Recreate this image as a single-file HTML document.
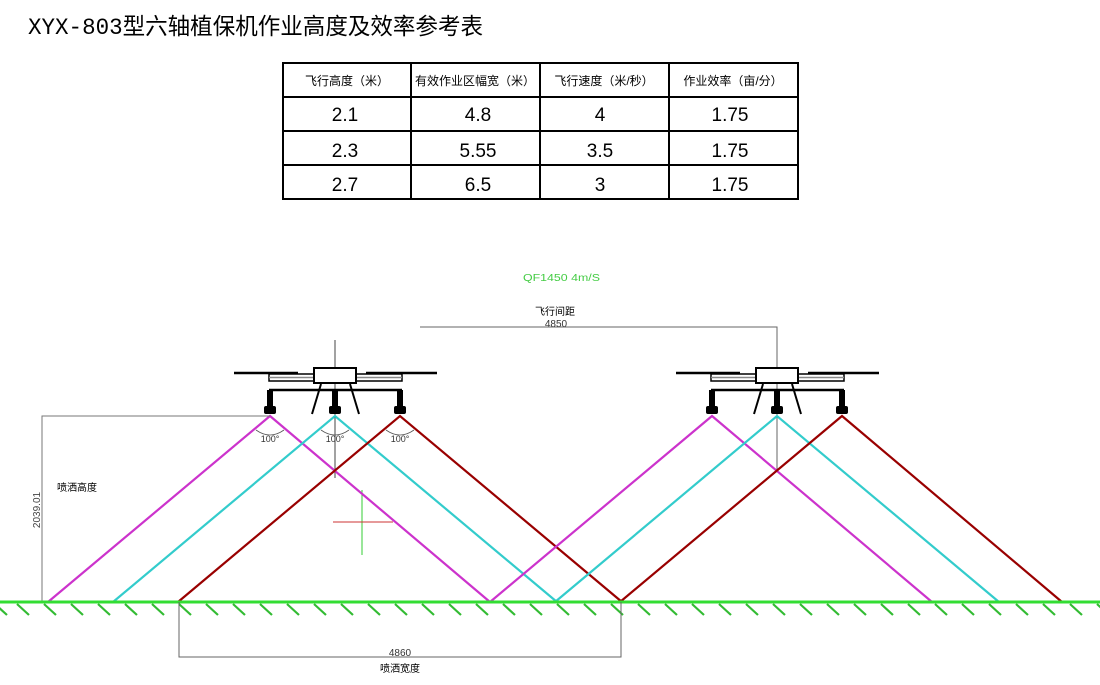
<!DOCTYPE html>
<html><head><meta charset="utf-8"><style>
html,body{margin:0;padding:0;background:#fff;width:1100px;height:685px;overflow:hidden}
svg{display:block}
text{font-family:"Liberation Sans","Noto Sans CJK SC",sans-serif}
</style></head><body>
<svg width="1100" height="685" viewBox="0 0 1100 685" xmlns="http://www.w3.org/2000/svg">
<defs>
<g id="drone">
  <line x1="-101" y1="373" x2="-37" y2="373" stroke="#000" stroke-width="2.5"/>
  <line x1="31" y1="373" x2="102" y2="373" stroke="#000" stroke-width="2.5"/>
  <rect x="-66" y="374" width="133" height="7" fill="#fff" stroke="#000" stroke-width="1.5"/>
  <line x1="-66" y1="377.5" x2="67" y2="377.5" stroke="#888" stroke-width="1.5"/>
  <rect x="-21" y="368" width="42" height="15" fill="#fff" stroke="#000" stroke-width="2"/>
  <line x1="-66" y1="390" x2="67" y2="390" stroke="#000" stroke-width="2.5"/>
  <line x1="-14" y1="384" x2="-23" y2="414" stroke="#000" stroke-width="2"/>
  <line x1="15" y1="384" x2="24" y2="414" stroke="#000" stroke-width="2"/>
  <g id="noz">
    <rect x="-68" y="390" width="6" height="18" fill="#000"/>
    <rect x="-71" y="406" width="12" height="8" rx="2" fill="#000"/>
  </g>
  <use href="#noz" x="65"/>
  <use href="#noz" x="130"/>
</g>
</defs>

<text x="28" y="34" font-size="23" textLength="455" lengthAdjust="spacingAndGlyphs" fill="#000" style="font-family:'Liberation Mono','Noto Sans CJK SC',monospace">XYX-803型六轴植保机作业高度及效率参考表</text>

<g stroke="#000" stroke-width="2" fill="none">
  <rect x="283" y="63" width="515" height="136"/>
  <line x1="283" y1="97" x2="798" y2="97"/>
  <line x1="283" y1="131" x2="798" y2="131"/>
  <line x1="283" y1="165" x2="798" y2="165"/>
  <line x1="411" y1="63" x2="411" y2="199"/>
  <line x1="540" y1="63" x2="540" y2="199"/>
  <line x1="669" y1="63" x2="669" y2="199"/>
</g>
<g font-size="12" text-anchor="middle" fill="#000">
  <text x="347" y="85">飞行高度（米）</text>
  <text x="475" y="85">有效作业区幅宽（米）</text>
  <text x="604" y="85">飞行速度（米/秒）</text>
  <text x="733" y="85">作业效率（亩/分）</text>
</g>
<g font-size="19" text-anchor="middle" fill="#000">
  <text x="345" y="121">2.1</text><text x="478" y="121">4.8</text><text x="600" y="121">4</text><text x="730" y="121">1.75</text>
  <text x="345" y="157">2.3</text><text x="478" y="157">5.55</text><text x="600" y="157">3.5</text><text x="730" y="157">1.75</text>
  <text x="345" y="191">2.7</text><text x="478" y="191">6.5</text><text x="600" y="191">3</text><text x="730" y="191">1.75</text>
</g>

<text x="523" y="281" font-size="10" fill="#4c4" textLength="77" lengthAdjust="spacingAndGlyphs">QF1450 4m/S</text>
<text x="555" y="315" font-size="10" text-anchor="middle" fill="#000">飞行间距</text>
<text x="556" y="327" font-size="10" text-anchor="middle" fill="#333">4850</text>
<polyline points="420,327 777,327 777,470" fill="none" stroke="#666" stroke-width="1"/>

<line x1="335" y1="340" x2="335" y2="478" stroke="#444" stroke-width="1"/>
<line x1="362" y1="490" x2="362" y2="555" stroke="#3c3" stroke-width="1"/>
<line x1="333" y1="522" x2="393" y2="522" stroke="#c33" stroke-width="1"/>

<g stroke-width="2.2" fill="none">
  <polyline points="48,602 270,416 490,602" stroke="#cc33cc"/>
  <polyline points="113,602 335,416 557,602" stroke="#33cccc"/>
  <polyline points="178,602 400,416 622,602" stroke="#990000"/>
  <polyline points="490,602 712,416 932,602" stroke="#cc33cc"/>
  <polyline points="555,602 777,416 999,602" stroke="#33cccc"/>
  <polyline points="620,602 842,416 1062,602" stroke="#990000"/>
</g>
<g font-size="9" fill="#333" text-anchor="middle">
  <text x="270" y="442">100°</text><text x="335" y="442">100°</text><text x="400" y="442">100°</text>
</g>
<g fill="none" stroke="#555" stroke-width="0.8">
  <path d="M256,430 Q270,440 284,430"/><path d="M321,430 Q335,440 349,430"/><path d="M386,430 Q400,440 414,430"/>
</g>

<use href="#drone" x="335"/>
<use href="#drone" x="777"/>

<polyline points="270,416 42,416 42,602" fill="none" stroke="#777" stroke-width="1"/>
<text x="57" y="491" font-size="10" fill="#000">喷洒高度</text>
<text transform="translate(40,510) rotate(-90)" font-size="10" text-anchor="middle" fill="#444">2039.01</text>

<line x1="0" y1="602" x2="1100" y2="602" stroke="#33dd33" stroke-width="3"/>
<path d="M-5,604 l12,11 M17,604 l12,11 M44,604 l12,11 M71,604 l12,11 M98,604 l12,11 M125,604 l12,11 M152,604 l12,11 M179,604 l12,11 M206,604 l12,11 M233,604 l12,11 M260,604 l12,11 M287,604 l12,11 M314,604 l12,11 M341,604 l12,11 M368,604 l12,11 M395,604 l12,11 M422,604 l12,11 M449,604 l12,11 M476,604 l12,11 M503,604 l12,11 M530,604 l12,11 M557,604 l12,11 M584,604 l12,11 M611,604 l12,11 M638,604 l12,11 M665,604 l12,11 M692,604 l12,11 M719,604 l12,11 M746,604 l12,11 M773,604 l12,11 M800,604 l12,11 M827,604 l12,11 M854,604 l12,11 M881,604 l12,11 M908,604 l12,11 M935,604 l12,11 M962,604 l12,11 M989,604 l12,11 M1016,604 l12,11 M1043,604 l12,11 M1070,604 l12,11 M1097,604 l12,11" stroke="#33bb33" stroke-width="2.2" fill="none"/>

<polyline points="179,602 179,657 621,657 621,602" fill="none" stroke="#666" stroke-width="1"/>
<text x="400" y="656" font-size="10" text-anchor="middle" fill="#333">4860</text>
<text x="400" y="672" font-size="10" text-anchor="middle" fill="#000">喷洒宽度</text>
</svg>
</body></html>
